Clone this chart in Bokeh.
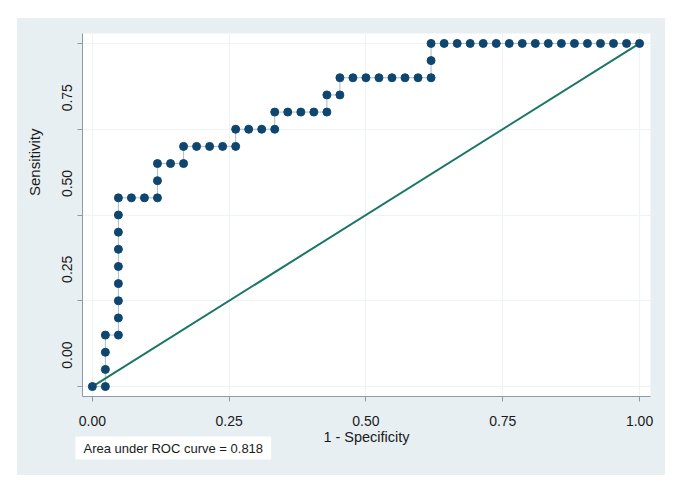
from bokeh.plotting import figure
from bokeh.models import LinearAxis, Range1d, Title, FixedTicker, NumeralTickFormatter
from bokeh.embed import file_html
from bokeh.resources import INLINE

# ROC points (1 - specificity, sensitivity)
one_minus_spec = [0.0, 0.0238, 0.0238, 0.0238, 0.0238,
                  0.0476, 0.0476, 0.0476, 0.0476, 0.0476, 0.0476, 0.0476, 0.0476, 0.0476,
                  0.0714, 0.0952, 0.1190, 0.1190, 0.1190,
                  0.1429, 0.1667, 0.1667, 0.1905, 0.2143, 0.2381,
                  0.2619, 0.2619, 0.2857, 0.3095, 0.3333, 0.3333,
                  0.3571, 0.3810, 0.4048, 0.4286, 0.4286, 0.4524, 0.4524,
                  0.4762, 0.5000, 0.5238, 0.5476, 0.5714, 0.5952,
                  0.6190, 0.6190, 0.6190,
                  0.6429, 0.6667, 0.6905, 0.7143, 0.7381, 0.7619, 0.7857, 0.8095,
                  0.8333, 0.8571, 0.8810, 0.9048, 0.9286, 0.9524, 0.9762, 1.0]
sensitivity = [0.0, 0.0, 0.05, 0.10, 0.15,
               0.15, 0.20, 0.25, 0.30, 0.35, 0.40, 0.45, 0.50, 0.55,
               0.55, 0.55, 0.55, 0.60, 0.65,
               0.65, 0.65, 0.70, 0.70, 0.70, 0.70,
               0.70, 0.75, 0.75, 0.75, 0.75, 0.80,
               0.80, 0.80, 0.80, 0.80, 0.85, 0.85, 0.90,
               0.90, 0.90, 0.90, 0.90, 0.90, 0.90,
               0.90, 0.95, 1.0,
               1.0, 1.0, 1.0, 1.0, 1.0, 1.0, 1.0, 1.0,
               1.0, 1.0, 1.0, 1.0, 1.0, 1.0, 1.0, 1.0]
ref_x = [0.0, 1.0]
ref_y = [0.0, 1.0]
tick_values = [0.0, 0.25, 0.5, 0.75, 1.0]
x_title = "1 - Specificity"
y_title = "Sensitivity"
auc_note = "Area under ROC curve = 0.818"

FONT = "Liberation Sans"
NAVY = "#0f4670"
GREEN = "#1a7763"
BG = "#e7eff2"
INK = "#1a1a1a"

p = figure(width=677, height=475, output_backend="svg", toolbar_location=None,
           x_range=Range1d(-0.018, 1.020), y_range=Range1d(-0.029, 1.029),
           min_border_left=82, min_border_right=27, min_border_top=33, min_border_bottom=79,
           border_fill_color=None, background_fill_color="white", outline_line_color=None)
p.styles = {"background": f"linear-gradient({BG},{BG}) 17px 18px / 648px 457px no-repeat"}

# shifted range used only for the y tick labels (as they sit in the picture)
shift = 31.5 / 343.0
p.extra_y_ranges = {"lab": Range1d(-0.029 - shift, 1.029 - shift)}

p.grid.grid_line_color = "#eef3f5"
p.xgrid.ticker = FixedTicker(ticks=tick_values)
p.ygrid.ticker = FixedTicker(ticks=tick_values)

xa = p.xaxis[0]
xa.ticker = FixedTicker(ticks=tick_values)
xa.formatter = NumeralTickFormatter(format="0.00")
xa.axis_label = x_title
ya = p.yaxis[0]
ya.ticker = FixedTicker(ticks=tick_values)
ya.major_label_text_color = None
ya.major_label_text_font_size = "1px"
ya.major_label_orientation = "vertical"
ya.major_label_standoff = 0

for ax in (xa, ya):
    ax.axis_line_color = "#8c9ba5"
    ax.major_tick_line_color = "#8c9ba5"
    ax.major_tick_in = 0
    ax.major_tick_out = 5
    ax.minor_tick_line_color = None
xa.major_label_text_font = FONT
xa.major_label_text_font_size = "14px"
xa.major_label_text_color = INK
xa.major_label_standoff = 14
xa.axis_label_text_font = FONT
xa.axis_label_text_font_size = "14.5px"
xa.axis_label_text_font_style = "normal"
xa.axis_label_text_color = INK
xa.axis_label_standoff = 0

la = LinearAxis(y_range_name="lab", ticker=FixedTicker(ticks=tick_values),
                formatter=NumeralTickFormatter(format="0.00"),
                axis_line_color=None, major_tick_line_color=None, minor_tick_line_color=None,
                major_tick_out=0, major_tick_in=0,
                major_label_orientation="vertical", major_label_standoff=5,
                major_label_text_font=FONT, major_label_text_font_size="14px",
                major_label_text_color=INK)
p.add_layout(la, "left")

yt = Title(text=y_title, align="right", offset=95, text_font=FONT, text_font_size="15px",
           text_font_style="normal", text_color=INK, standoff=34)
p.add_layout(yt, "left")

at = Title(text=auc_note, align="left", offset=-7, vertical_align="top", text_font=FONT,
           text_font_size="13px", text_font_style="normal", text_color=INK,
           background_fill_color="white", padding=(8, 4), standoff=-22)
p.add_layout(at, "below")

p.line(one_minus_spec, sensitivity, line_color="#a9bdcb", line_width=1)
p.line(ref_x, ref_y, line_color=GREEN, line_width=2)
p.scatter(one_minus_spec, sensitivity, size=8, fill_color=NAVY, line_color=NAVY)

open("out.html", "w").write(file_html(p, INLINE))
